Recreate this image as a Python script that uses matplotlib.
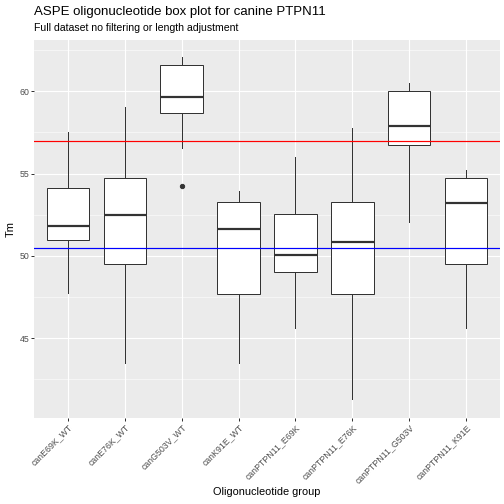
import matplotlib
matplotlib.use('Agg')
import matplotlib.pyplot as plt
import numpy as np

plt.rcParams['font.family'] = ['Liberation Sans', 'DejaVu Sans']

# groups and box statistics
groups = ['canE69K_WT', 'canE76K_WT', 'canG503V_WT', 'canK91E_WT',
          'canPTPN11_E69K', 'canPTPN11_E76K', 'canPTPN11_G503V', 'canPTPN11_K91E']
whisk_low = [47.77, 43.49, 56.58, 43.49, 45.63, 41.30, 52.08, 45.63]
q1 = [50.97, 49.53, 58.70, 47.69, 49.05, 47.67, 56.76, 49.53]
median = [51.84, 52.49, 59.65, 51.64, 50.08, 50.85, 57.91, 53.24]
q3 = [54.13, 54.74, 61.58, 53.30, 52.53, 53.30, 60.04, 54.74]
whisk_high = [57.51, 59.07, 62.06, 53.95, 56.03, 57.79, 60.49, 55.22]
outliers = [[], [], [54.25], [], [], [], [], []]

upper_ref = 57.0
lower_ref = 50.5

stats = []
for i, g in enumerate(groups):
    stats.append({'label': g, 'whislo': whisk_low[i], 'q1': q1[i], 'med': median[i],
                  'q3': q3[i], 'whishi': whisk_high[i], 'fliers': outliers[i]})

fig = plt.figure(figsize=(7, 7), dpi=72)
ax = fig.add_axes([34/504, 1-418/504, 466/504, 378/504])
ax.set_facecolor('#EBEBEB')

pos = np.arange(1, len(groups) + 1)
line_col = '#333333'
ax.bxp(stats, positions=pos, widths=0.75, patch_artist=True, showcaps=False,
       boxprops=dict(facecolor='white', edgecolor=line_col, linewidth=1.0),
       medianprops=dict(color=line_col, linewidth=2.2),
       whiskerprops=dict(color=line_col, linewidth=1.0),
       flierprops=dict(marker='o', markerfacecolor=line_col, markeredgecolor=line_col,
                       markersize=4.3), zorder=3)

ax.axhline(upper_ref, color='red', linewidth=1.2, zorder=5)
ax.axhline(lower_ref, color='blue', linewidth=1.2, zorder=5)

ax.set_xlim(0.4, len(groups) + 0.6)
ax.set_ylim(40.16, 63.11)
ax.set_yticks([45, 50, 55, 60])
ax.set_yticks([42.5, 47.5, 52.5, 57.5, 62.5], minor=True)
ax.set_xticks(pos)
ax.set_xticklabels(groups, rotation=45, ha='right', va='top', rotation_mode='anchor')

ax.grid(which='major', color='white', linewidth=1.1, zorder=0)
ax.grid(which='minor', axis='y', color='white', linewidth=0.55, zorder=0)
ax.set_axisbelow(True)
for s in ax.spines.values():
    s.set_visible(False)
ax.tick_params(axis='both', which='major', length=2.7, width=1.0, color='#333333',
               labelcolor='#4D4D4D', labelsize=8.8, pad=2)
ax.tick_params(axis='both', which='minor', length=0)

ax.set_xlabel('Oligonucleotide group', fontsize=11, color='black', labelpad=2)
ax.set_ylabel('Tm', fontsize=11, color='black', labelpad=4)

fig.text(34/504, 1-12/504, 'ASPE oligonucleotide box plot for canine PTPN11',
         fontsize=13.2, va='center', ha='left')
fig.text(34/504, 1-28/504, 'Full dataset no filtering or length adjustment',
         fontsize=10.5, va='center', ha='left')

fig.savefig('out.png', dpi=72)
